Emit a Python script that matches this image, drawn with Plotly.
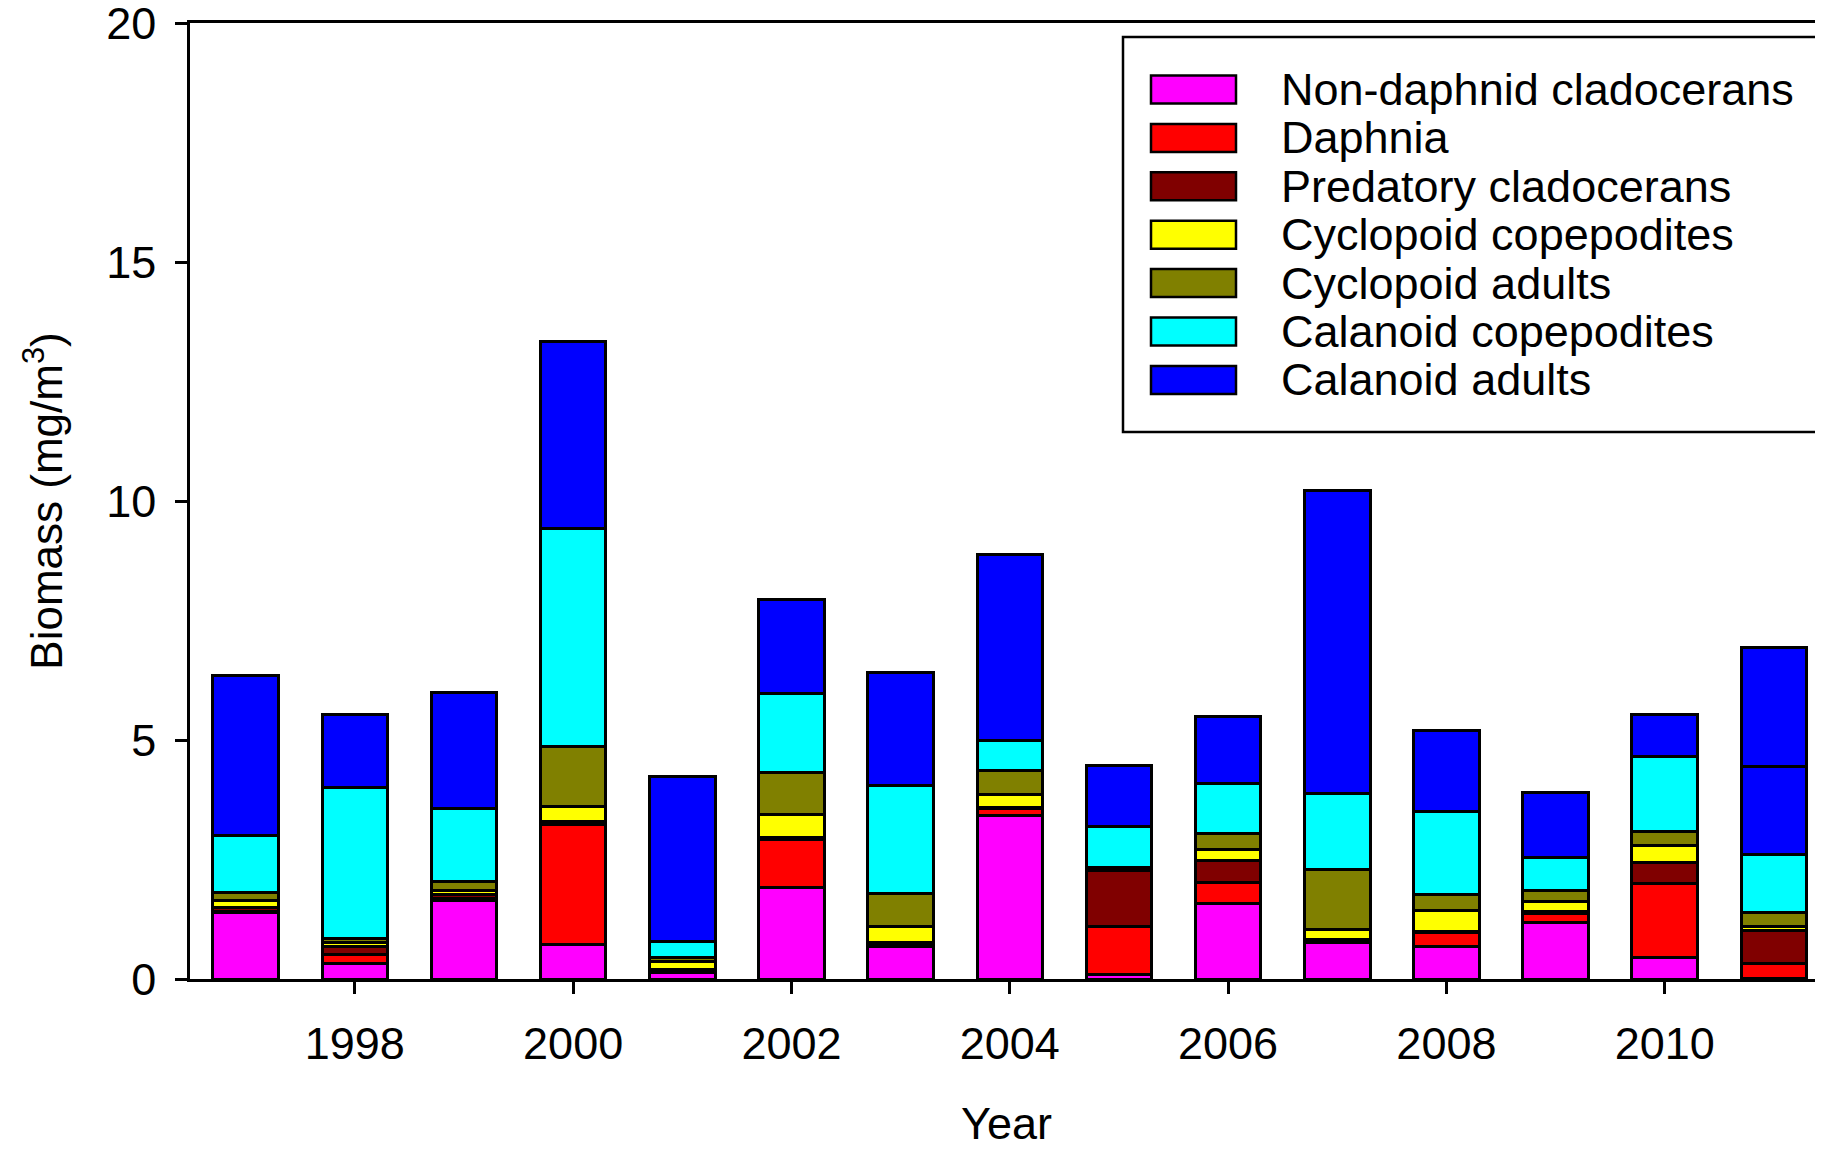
import plotly.graph_objects as go

years = list(range(1997, 2012))
series_names = [
    "Non-daphnid cladocerans",
    "Daphnia",
    "Predatory cladocerans",
    "Cyclopoid copepodites",
    "Cyclopoid adults",
    "Calanoid copepodites",
    "Calanoid adults",
]
non_daphnid = [1.39, 0.32, 1.64, 0.73, 0.13, 1.91, 0.68, 3.43, 0.10, 1.57, 0.76, 0.68, 1.18, 0.45, 0.02]
daphnia = [0.03, 0.20, 0.05, 2.51, 0.03, 1.01, 0.04, 0.13, 0.99, 0.45, 0.03, 0.29, 0.18, 1.55, 0.31]
predatory = [0.07, 0.17, 0.08, 0.06, 0.04, 0.03, 0.04, 0.02, 1.19, 0.46, 0.03, 0.02, 0.06, 0.43, 0.69]
cyclopoid_cop = [0.15, 0.07, 0.08, 0.31, 0.16, 0.50, 0.33, 0.28, 0.03, 0.22, 0.22, 0.45, 0.20, 0.36, 0.07]
cyclopoid_ad = [0.18, 0.08, 0.18, 1.26, 0.09, 0.87, 0.70, 0.51, 0.03, 0.35, 1.25, 0.33, 0.24, 0.29, 0.30]
calanoid_cop = [1.19, 3.17, 1.54, 4.55, 0.34, 1.66, 2.25, 0.62, 0.86, 1.04, 1.59, 1.74, 0.69, 1.57, 1.21]
calanoid_ad = [3.34, 1.52, 2.43, 3.91, 3.45, 1.95, 2.38, 3.89, 1.26, 1.41, 6.34, 1.68, 1.36, 0.89, 1.85]
# second calanoid-adult block drawn on top in 2011 (separated by a line in the original)
calanoid_ad_extra = [None] * 14 + [2.48]

colors = ["#FF00FF", "#FF0000", "#800000", "#FFFF00", "#808000", "#00FFFF", "#0000FF"]
values = [non_daphnid, daphnia, predatory, cyclopoid_cop, cyclopoid_ad, calanoid_cop, calanoid_ad]
xtick_vals = [1998, 2000, 2002, 2004, 2006, 2008, 2010]
ytick_vals = [0, 5, 10, 15, 20]

FONT = "Liberation Sans, Arial, sans-serif"
OFF = 8  # default page body margin
W, H = 1823 - OFF, 1149 - OFF
L, R, T, B = 190 - OFF, 0, 23 - OFF, 170
PW, PH = W - L - R, H - T - B

fig = go.Figure()
for name, vals, col in zip(series_names, values, colors):
    fig.add_trace(go.Bar(x=years, y=vals, name=name,
                         marker=dict(color=col, line=dict(color="black", width=3)),
                         showlegend=False))
fig.add_trace(go.Bar(x=years, y=calanoid_ad_extra, name=series_names[-1],
                     marker=dict(color=colors[-1], line=dict(color="black", width=3)),
                     showlegend=False))


# manual legend (large swatches like the original); inputs are screen pixels
def px_x(p):
    return (p - OFF - L) / PW


def px_y(p):
    return (H - B - (p - OFF)) / PH


shapes = [dict(type="rect", xref="paper", yref="paper", x0=px_x(1123), x1=px_x(1900),
               y0=px_y(432), y1=px_y(37),
               line=dict(color="black", width=2.5), fillcolor="white", layer="above")]
annotations = []
for i, (name, col) in enumerate(zip(series_names, colors)):
    cy = 89.5 + 48.4 * i
    shapes.append(dict(type="rect", xref="paper", yref="paper", x0=px_x(1151), x1=px_x(1236),
                       y0=px_y(cy + 14), y1=px_y(cy - 14), fillcolor=col,
                       line=dict(color="black", width=2.5), layer="above"))
    annotations.append(dict(xref="paper", yref="paper", x=px_x(1279), y=px_y(cy), text=name,
                            showarrow=False, xanchor="left", yanchor="middle",
                            font=dict(family=FONT, size=45, color="black")))

fig.update_layout(
    width=W, height=H,
    margin=dict(l=L, r=R, t=T, b=B, autoexpand=False),
    barmode="stack", bargap=0.4,
    plot_bgcolor="white", paper_bgcolor="white",
    font=dict(family=FONT, size=45, color="black"),
    shapes=shapes, annotations=annotations,
    xaxis=dict(range=[1996.49, 2011.45], tickvals=xtick_vals, ticks="outside", ticklen=12,
               tickwidth=2.5, tickcolor="black", showline=True, linecolor="black", linewidth=2.5,
               mirror=True, showgrid=False, zeroline=False, ticklabelstandoff=11,
               automargin=False,
               tickfont=dict(family=FONT, size=45),
               title=dict(text="Year", font=dict(family=FONT, size=45), standoff=45)),
    yaxis=dict(range=[0, 20.0001], tickvals=ytick_vals, ticks="outside", ticklen=12, tickwidth=2.5,
               tickcolor="black", showline=True, linecolor="black", linewidth=2.5,
               showgrid=False, zeroline=False, ticklabelstandoff=10, ticklabeloverflow="allow",
               automargin=False,
               tickfont=dict(family=FONT, size=45),
               title=dict(text="Biomass (mg/m<sup>3</sup>)", font=dict(family=FONT, size=44),
                          standoff=30)),
)

fig.write_html("out.html")
